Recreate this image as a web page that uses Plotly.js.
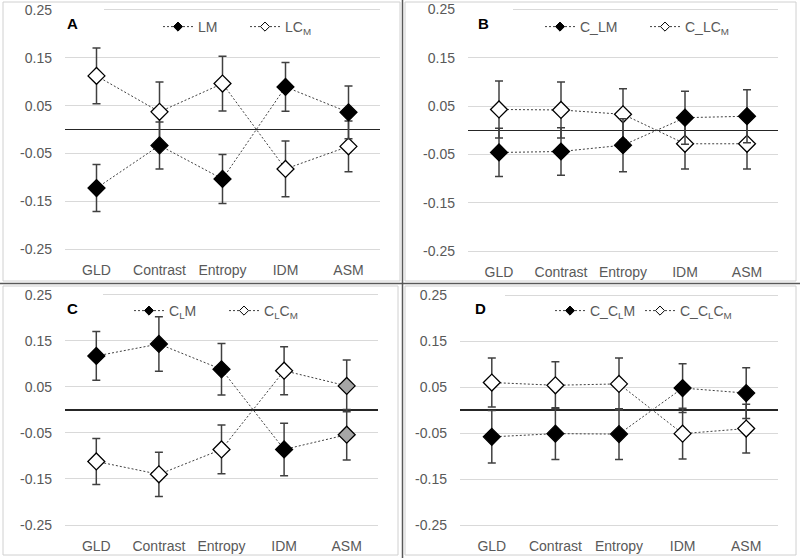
<!DOCTYPE html>
<html><head><meta charset="utf-8">
<script src="https://cdn.plot.ly/plotly-3.0.1.min.js"></script>
<style>html,body{margin:0;padding:0;background:#fff}#chart{width:800px;height:558px}</style>
</head><body><div id="chart"></div>
<script>
// ---- data ----
const categories = ['GLD', 'Contrast', 'Entropy', 'IDM', 'ASM'];
const yTickVals = [-0.25, -0.15, -0.05, 0.05, 0.15, 0.25];
const yTickText = ['-0.25', '-0.15', '-0.05', '0.05', '0.15', '0.25'];
const panelLetters = ['A', 'B', 'C', 'D'];
const blackNames = ['LM', 'C_LM', 'C<sub>L</sub>M', 'C_C<sub>L</sub>M'];
const whiteNames = ['LC<sub>M</sub>', 'C_LC<sub>M</sub>', 'C<sub>L</sub>C<sub>M</sub>', 'C_C<sub>L</sub>C<sub>M</sub>'];

const aBlack = [-0.122, -0.033, -0.103, 0.089, 0.036];
const aBlackErr = [0.049, 0.049, 0.051, 0.051, 0.055];
const aWhite = [0.112, 0.037, 0.096, -0.082, -0.035];
const aWhiteErr = [0.058, 0.062, 0.057, 0.058, 0.053];

const bBlack = [-0.046, -0.044, -0.031, 0.026, 0.029];
const bBlackErr = [0.050, 0.049, 0.055, 0.055, 0.055];
const bWhite = [0.043, 0.042, 0.033, -0.028, -0.028];
const bWhiteErr = [0.059, 0.058, 0.053, 0.052, 0.052];

const cBlack = [0.117, 0.143, 0.088, -0.086, -0.054];
const cBlackErr = [0.053, 0.059, 0.056, 0.057, 0.055];
const cWhite = [-0.112, -0.140, -0.086, 0.085, 0.052];
const cWhiteErr = [0.050, 0.048, 0.053, 0.052, 0.056];

const dBlack = [-0.058, -0.051, -0.052, 0.048, 0.037];
const dBlackErr = [0.057, 0.056, 0.055, 0.053, 0.055];
const dWhite = [0.060, 0.054, 0.057, -0.051, -0.040];
const dWhiteErr = [0.053, 0.051, 0.056, 0.055, 0.053];

const blackSeries = [aBlack, bBlack, cBlack, dBlack];
const blackErrs = [aBlackErr, bBlackErr, cBlackErr, dBlackErr];
const whiteSeries = [aWhite, bWhite, cWhite, dWhite];
const whiteErrs = [aWhiteErr, bWhiteErr, cWhiteErr, dWhiteErr];

// ---- geometry (pixels) ----
const W = 800, H = 558;
const geo = [
  {xl: 65, xr: 380, yt: 9.7, yb: 249.5, letter: [65, 24], cover: 104, leg: [[158, 27], [245, 27]]},
  {xl: 468, xr: 778, yt: 9.5, yb: 251, letter: [476, 24], cover: 513, leg: [[540, 27], [645, 27]]},
  {xl: 65, xr: 378, yt: 294.7, yb: 525, letter: [65, 308], cover: 103, leg: [[129, 311], [224, 311]]},
  {xl: 460, xr: 778, yt: 295, yb: 525.3, letter: [473, 308], cover: 505, leg: [[550, 311], [640, 311]]}
];
const FONT = 'Liberation Sans, Arial, sans-serif';
const TXT = '#595959';
const px = p => p / W;
const py = p => 1 - p / H;

const data = [];
const layout = {
  width: W, height: H,
  margin: {l: 0, r: 0, t: 0, b: 0},
  paper_bgcolor: '#fff', plot_bgcolor: 'rgba(0,0,0,0)',
  font: {family: FONT, size: 14, color: TXT},
  showlegend: true,
  shapes: [], annotations: []
};

geo.forEach((g, i) => {
  const n = i === 0 ? '' : String(i + 1);
  const scale = (g.yb - g.yt) / 0.5;
  const top = g.yt - 0.01 * scale, bot = g.yb + 0.01 * scale;
  layout['xaxis' + n] = {
    domain: [px(g.xl), px(g.xr)], anchor: 'y' + n,
    type: 'category', categoryorder: 'array', categoryarray: categories,
    range: [-0.5, 4.5], showgrid: false, zeroline: false, showline: false,
    ticks: '', ticklabelstandoff: 6, tickfont: {family: FONT, size: 14, color: TXT},
    fixedrange: true
  };
  layout['yaxis' + n] = {
    domain: [py(bot), py(top)], anchor: 'x' + n,
    range: [-0.26, 0.26], tickmode: 'array', tickvals: yTickVals, ticktext: yTickText,
    showgrid: true, gridcolor: '#d9d9d9', gridwidth: 1,
    zeroline: true, zerolinecolor: '#262626', zerolinewidth: 1.5,
    showline: false, ticks: '', ticklabelstandoff: 12,
    tickfont: {family: FONT, size: 14, color: TXT}, fixedrange: true
  };
  const hatchLast = i === 2;
  const lineStyle = {color: '#404040', width: 1, dash: '2px,2px'};
  const errStyle = arr => ({type: 'data', array: arr, visible: true, color: '#404040', thickness: 1.5, width: 4});
  // white series
  data.push({
    type: 'scatter', mode: 'lines+markers', x: categories, y: whiteSeries[i],
    xaxis: 'x' + n, yaxis: 'y' + n, showlegend: false, name: whiteNames[i],
    line: lineStyle, error_y: errStyle(whiteErrs[i]),
    marker: {symbol: 'diamond', size: 13,
      color: categories.map((c, k) => hatchLast && k === 4 ? '#a6a6a6' : '#ffffff'),
      line: {color: '#000', width: 1.3}}
  });
  // black series
  data.push({
    type: 'scatter', mode: 'lines+markers', x: categories, y: blackSeries[i],
    xaxis: 'x' + n, yaxis: 'y' + n, showlegend: false, name: blackNames[i],
    line: lineStyle, error_y: errStyle(blackErrs[i]),
    marker: {symbol: 'diamond', size: 13,
      color: categories.map((c, k) => hatchLast && k === 4 ? '#a6a6a6' : '#000000'),
      line: {color: '#000', width: 1.3}}
  });
  // legend entries
  const l1 = 'legend' + (i === 0 ? '' : String(2 * i + 1));
  const l2 = 'legend' + String(2 * i + 2);
  data.push({type: 'scatter', mode: 'lines+markers', x: [null], y: [null], xaxis: 'x' + n, yaxis: 'y' + n,
    name: blackNames[i], legend: l1, showlegend: true, line: lineStyle,
    marker: {symbol: 'diamond', size: 7, color: '#000', line: {color: '#000', width: 1}}});
  data.push({type: 'scatter', mode: 'lines+markers', x: [null], y: [null], xaxis: 'x' + n, yaxis: 'y' + n,
    name: whiteNames[i], legend: l2, showlegend: true, line: lineStyle,
    marker: {symbol: 'diamond', size: 7, color: '#fff', line: {color: '#000', width: 1}}});
  [[l1, g.leg[0]], [l2, g.leg[1]]].forEach(([key, pos]) => {
    layout[key] = {x: px(pos[0]), y: py(pos[1]), xanchor: 'left', yanchor: 'middle',
      orientation: 'h', bgcolor: 'rgba(0,0,0,0)', borderwidth: 0,
      font: {family: FONT, size: 14, color: TXT}};
  });
  // white cover over top gridline near the letter
  layout.shapes.push({type: 'rect', xref: 'paper', yref: 'paper', layer: 'above',
    x0: px(g.xl - 1), x1: px(g.cover), y0: py(g.yt + 5), y1: py(g.yt - 5),
    fillcolor: '#fff', line: {width: 0}});
  layout.annotations.push({text: '<b>' + panelLetters[i] + '</b>', xref: 'paper', yref: 'paper',
    x: px(g.letter[0]), y: py(g.letter[1]), xanchor: 'left', yanchor: 'middle', showarrow: false,
    font: {family: FONT, size: 15, color: '#000'}});
});

// panel frames
const frames = [[3, 2, 400, 281], [405, 2, 796, 281], [3, 286, 398, 555], [405, 286, 796, 555]];
frames.forEach(f => layout.shapes.push({type: 'rect', xref: 'paper', yref: 'paper', layer: 'below',
  x0: px(f[0]), x1: px(f[2]), y0: py(f[3]), y1: py(f[1]), line: {color: '#d0d0d0', width: 1}}));
layout.shapes.push({type: 'line', xref: 'paper', yref: 'paper', x0: px(402.5), x1: px(402.5), y0: 0, y1: 1,
  line: {color: '#595959', width: 1.5}});
layout.shapes.push({type: 'line', xref: 'paper', yref: 'paper', x0: 0, x1: 1, y0: py(283.5), y1: py(283.5),
  line: {color: '#595959', width: 1.5}});

Plotly.newPlot('chart', data, layout, {displayModeBar: false, staticPlot: true});
</script></body></html>
